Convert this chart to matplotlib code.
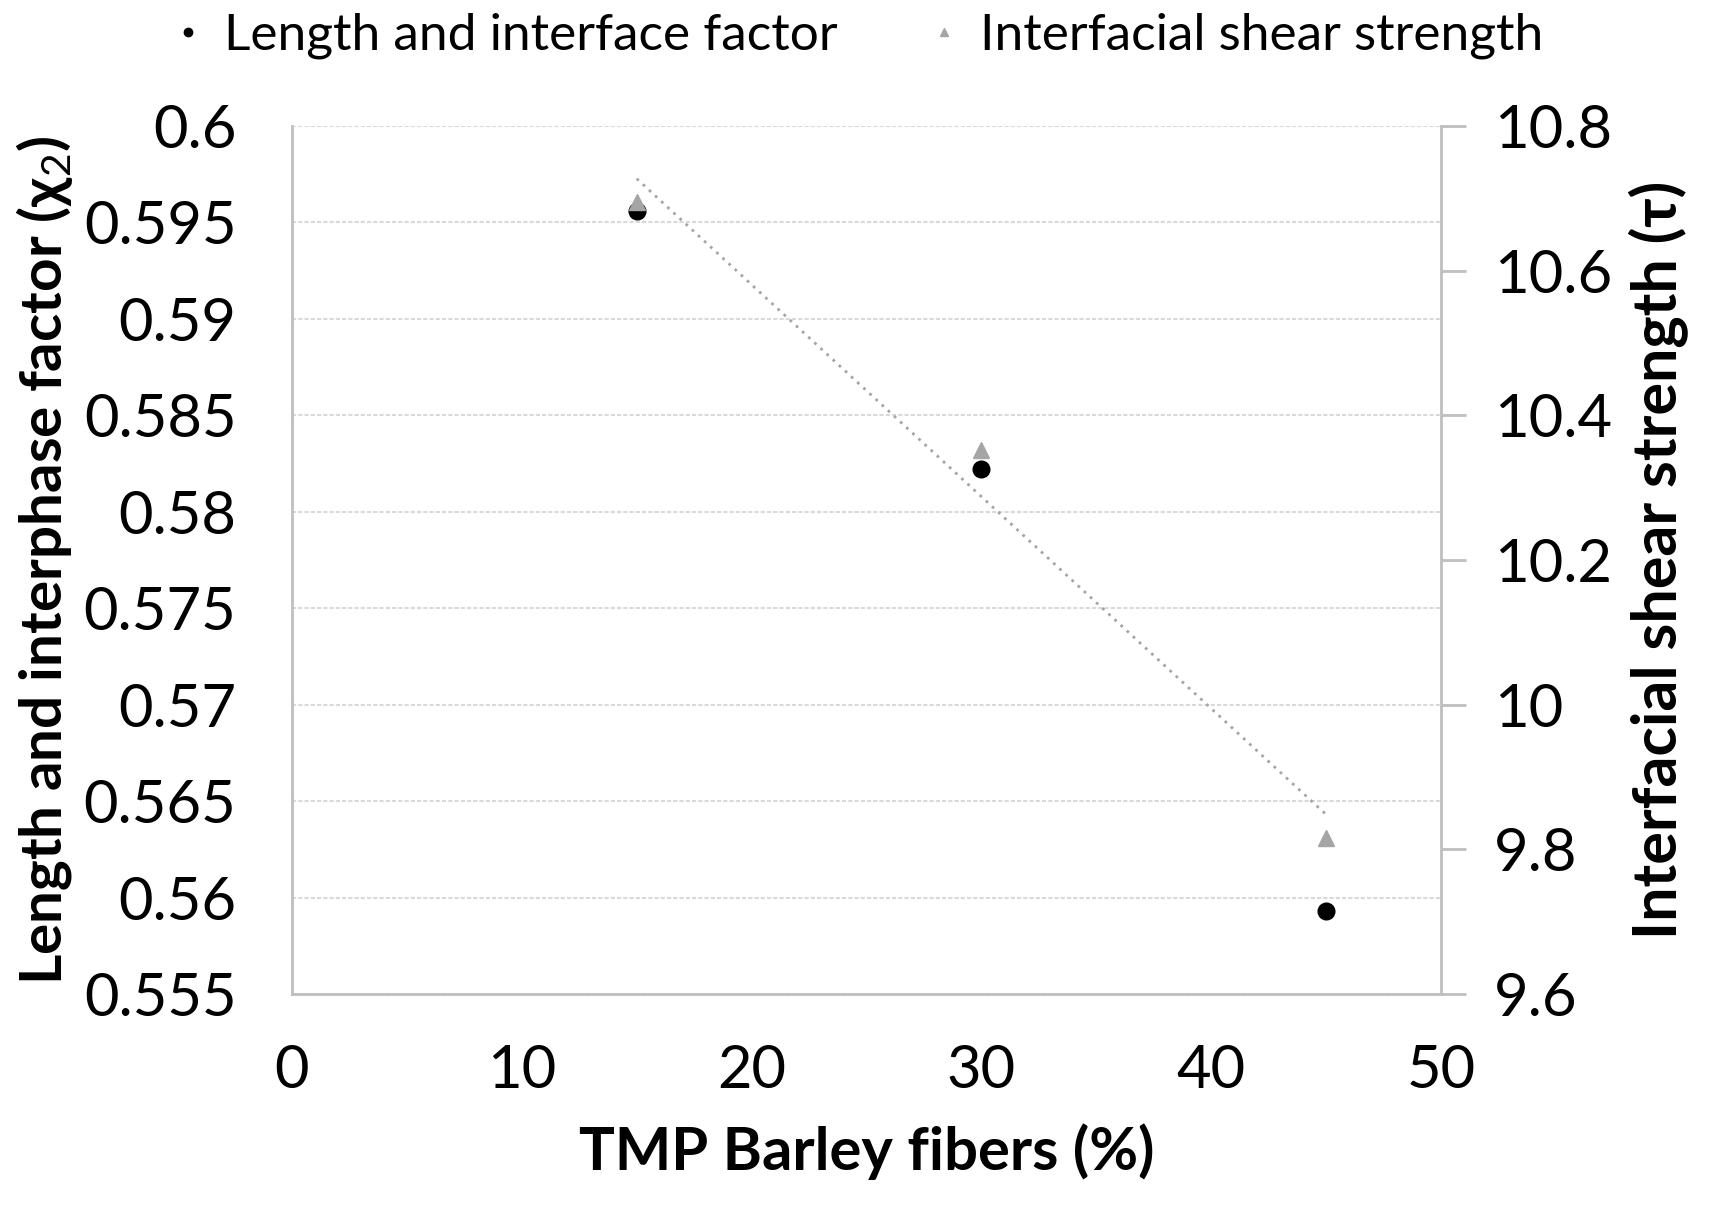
import numpy as np
import matplotlib
matplotlib.use("Agg")
import matplotlib.pyplot as plt

plt.rcParams['font.family'] = ['Lato', 'DejaVu Sans']
plt.rcParams['mathtext.fontset'] = 'custom'
plt.rcParams['mathtext.rm'] = 'Lato'
plt.rcParams['mathtext.bf'] = 'Lato:bold'

# data
fibers = [15, 30, 45]
chi2 = [0.5956, 0.5822, 0.5593]
tau = [10.695, 10.352, 9.816]

x_ticks = [0, 10, 20, 30, 40, 50]
left_ticks = [0.555, 0.56, 0.565, 0.57, 0.575, 0.58, 0.585, 0.59, 0.595, 0.6]
left_labels = ["0.555", "0.56", "0.565", "0.57", "0.575", "0.58", "0.585", "0.59", "0.595", "0.6"]
right_ticks = [9.6, 9.8, 10.0, 10.2, 10.4, 10.6, 10.8]
right_labels = ["9.6", "9.8", "10", "10.2", "10.4", "10.6", "10.8"]

grey = "#bfbfbf"

fig = plt.figure(figsize=(17.14, 12.06), dpi=100)
ax = fig.add_axes([292/1714, 1-994/1206, (1441-292)/1714, (994-126)/1206])
ax2 = ax.twinx()

ax.set_xlim(0, 50)
ax.set_ylim(0.555, 0.6)
ax2.set_ylim(9.6, 10.8)

ax.set_xticks(x_ticks)
ax.set_yticks(left_ticks)
ax.set_yticklabels(left_labels)
ax2.set_yticks(right_ticks)
ax2.set_yticklabels(right_labels)

ax.grid(axis='y', color="#d9d9d9", linestyle=(0, (2, 1)), linewidth=1.5)
ax.set_axisbelow(True)

for s in ['top', 'right']:
    ax.spines[s].set_visible(False)
for s in ['top', 'left', 'bottom']:
    ax2.spines[s].set_visible(False)
ax.spines['left'].set_color(grey)
ax.spines['bottom'].set_color(grey)
ax.spines['left'].set_linewidth(2)
ax.spines['bottom'].set_linewidth(2)
ax2.spines['right'].set_color(grey)
ax2.spines['right'].set_linewidth(2)

ax.tick_params(axis='y', length=0, labelsize=43, pad=40)
ax.tick_params(axis='x', length=0, labelsize=43, pad=36)
ax2.tick_params(axis='y', length=18, width=2, color=grey, labelsize=43, pad=20)

p1, = ax.plot(fibers, chi2, 'o', color='black', markersize=12, label="Length and interface factor")
p2, = ax2.plot(fibers, tau, '^', color='#a5a5a5', markersize=11, label="Interfacial shear strength")

# linear trendline of shear strength
coef = np.polyfit(fibers, tau, 1)
xt = np.array([fibers[0], fibers[-1]])
ax2.plot(xt, np.polyval(coef, xt), color='#a5a5a5', linestyle=(0, (1, 2)), linewidth=2)

ax.set_xlabel("TMP Barley fibers (%)", fontsize=43, fontweight='bold', labelpad=18)
ax.set_ylabel(r"Length and interphase factor (χ$_2$)", fontsize=42, fontweight='bold', labelpad=6)
ax2.set_ylabel("Interfacial shear strength (τ)", fontsize=44, fontweight='bold', labelpad=12)

fig.legend(handles=[p1, p2], loc='center', bbox_to_anchor=(858/1714, 1-36/1206),
           ncol=2, frameon=False, fontsize=37, markerscale=0.5, handlelength=0.6,
           handletextpad=0.4, columnspacing=1.77)

plt.savefig("out.png", dpi=100)
